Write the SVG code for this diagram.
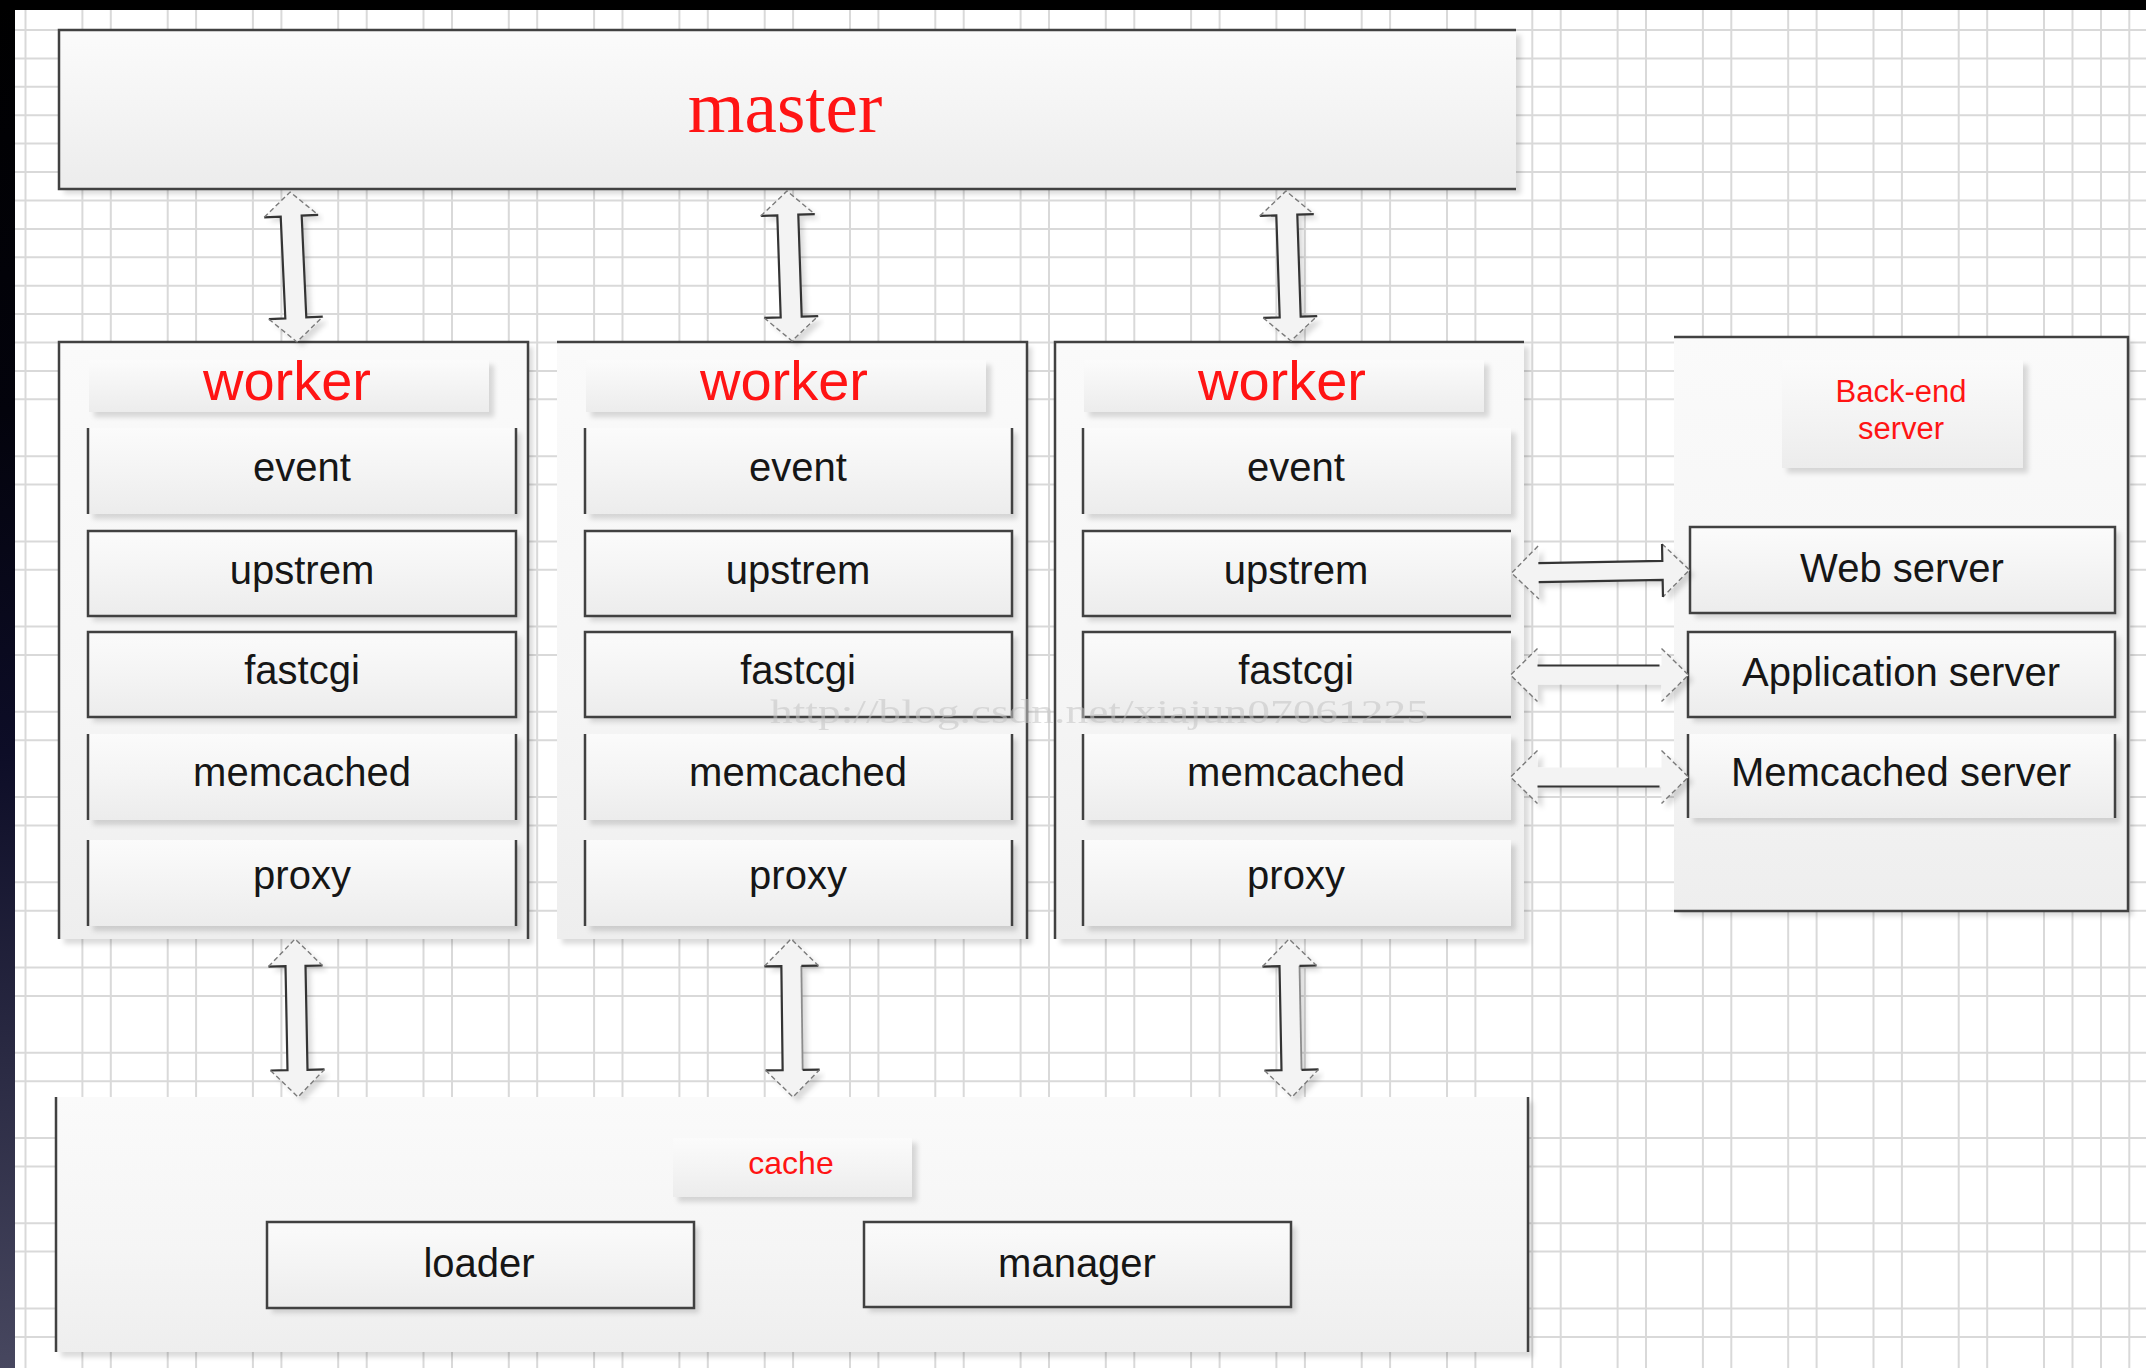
<svg xmlns="http://www.w3.org/2000/svg" xmlns:xlink="http://www.w3.org/1999/xlink" width="2146" height="1368" viewBox="0 0 2146 1368">
  <style>
    .bd { fill: none; stroke: #414141; stroke-width: 2.5; }
    .grid { fill: none; stroke: #d9d9d9; stroke-width: 2; }
    .lbl { font-family: "Liberation Sans", Arial, sans-serif; font-size: 40px; fill: #161616; text-anchor: middle; }
    .red { fill: #ff1414; }
    .ttl { font-size: 56px; }
    .sm { font-size: 31px; }
    .cap { font-size: 32px; }
    .serif { font-family: "Liberation Serif", "Times New Roman", serif; font-size: 73px; text-anchor: middle; }
    .af { fill: #f3f3f3; }
    .as { fill: none; stroke: #343434; stroke-width: 2.2; }
    .al { fill: none; stroke: #8c8c8c; stroke-width: 1.8; }
    .ad { fill: none; stroke: #7a7a7a; stroke-width: 1.4; stroke-dasharray: 5 3; }
    .wm { font-family: "Liberation Serif", "Times New Roman", serif; font-size: 33px; fill: #c4c4c4; opacity: 0.55; }
  </style>
  <defs>
    <linearGradient id="g" x1="0" y1="0" x2="0" y2="1">
      <stop offset="0" stop-color="#fbfbfb"/>
      <stop offset="0.5" stop-color="#f4f4f4"/>
      <stop offset="1" stop-color="#ececec"/>
    </linearGradient>
    <linearGradient id="g2" x1="0" y1="0" x2="0" y2="1">
      <stop offset="0" stop-color="#fafafa"/>
      <stop offset="0.6" stop-color="#f5f5f5"/>
      <stop offset="1" stop-color="#eeeeee"/>
    </linearGradient>
    <linearGradient id="side" x1="0" y1="0" x2="0" y2="1">
      <stop offset="0" stop-color="#000000"/>
      <stop offset="0.3" stop-color="#03030c"/>
      <stop offset="0.55" stop-color="#0d0d27"/>
      <stop offset="1" stop-color="#47475f"/>
    </linearGradient>
    <filter id="sh" x="-5%" y="-5%" width="115%" height="125%">
      <feDropShadow dx="5" dy="5" stdDeviation="2.5" flood-color="#000" flood-opacity="0.14"/>
    </filter>
    <!-- vertical double arrow, master <-> worker -->
    <polygon id="vaF" class="af" points="0,-75 27,-51 10.5,-51 10.5,51 27,51 0,75 -27,51 -10.5,51 -10.5,-51 -27,-51"/>
    <path id="vaS" class="as" d="M-27,-51 H-10.5 V51 H-27 M27,-51 H10.5 V51 H27"/>
    <path id="vaD" class="ad" d="M-27,-51 L0,-75 L27,-51 M-27,51 L0,75 L27,51"/>
    <!-- vertical double arrow, worker <-> cache -->
    <polygon id="vbF" class="af" points="0,-79 27,-52 10,-52 10,52 27,52 0,79 -27,52 -10,52 -10,-52 -27,-52"/>
    <path id="vbL" class="as" d="M-27,-52 H-10 V52 H-27"/>
    <path id="vbR" class="as" d="M27,-52 H10 V52 H27"/>
    <path id="vbRl" class="al" d="M10,-52 V52"/>
    <path id="vbLedge" class="as" d="M27,-52 H10 M27,52 H10"/>
    <path id="vbD" class="ad" d="M-27,-52 L0,-79 L27,-52 M-27,52 L0,79 L27,52"/>
    <!-- horizontal double arrow, worker <-> back-end -->
    <polygon id="haF" class="af" points="-89,0 -62,-26.5 -62,-9.5 62,-9.5 62,-26.5 89,0 62,26.5 62,9.5 -62,9.5 -62,26.5"/>
    <path id="haD" class="ad" d="M-62,-26.5 L-89,0 L-62,26.5 M62,-26.5 L89,0 L62,26.5"/>
  </defs>

  <!-- page background and grid -->
  <rect x="0" y="0" width="2146" height="1368" fill="#ffffff"/>
  <path class="grid" d="M25.5,0 V1368 M82.4,0 V1368 M110.8,0 V1368 M167.7,0 V1368 M196.1,0 V1368 M252.9,0 V1368 M281.4,0 V1368 M338.2,0 V1368 M366.7,0 V1368 M423.5,0 V1368 M452,0 V1368 M508.8,0 V1368 M537.2,0 V1368 M594.1,0 V1368 M622.5,0 V1368 M679.4,0 V1368 M707.8,0 V1368 M764.7,0 V1368 M793.1,0 V1368 M850,0 V1368 M878.4,0 V1368 M935.3,0 V1368 M963.7,0 V1368 M1020.6,0 V1368 M1049,0 V1368 M1105.8,0 V1368 M1134.3,0 V1368 M1191.1,0 V1368 M1219.6,0 V1368 M1276.4,0 V1368 M1304.9,0 V1368 M1361.7,0 V1368 M1390.1,0 V1368 M1447,0 V1368 M1475.4,0 V1368 M1532.3,0 V1368 M1560.7,0 V1368 M1617.6,0 V1368 M1646,0 V1368 M1702.9,0 V1368 M1731.3,0 V1368 M1788.2,0 V1368 M1816.6,0 V1368 M1873.5,0 V1368 M1901.9,0 V1368 M1958.7,0 V1368 M1987.2,0 V1368 M2044,0 V1368 M2072.5,0 V1368 M2101,0 V1368 M2129.3,0 V1368"/>
  <path class="grid" d="M0,30 H2146 M0,58.4 H2146 M0,86.8 H2146 M0,115.2 H2146 M0,143.6 H2146 M0,172 H2146 M0,200.5 H2146 M0,228.9 H2146 M0,257.3 H2146 M0,285.7 H2146 M0,314.1 H2146 M0,342.5 H2146 M0,370.9 H2146 M0,399.3 H2146 M0,456.2 H2146 M0,484.6 H2146 M0,541.4 H2146 M0,569.8 H2146 M0,626.6 H2146 M0,655 H2146 M0,711.8 H2146 M0,740.2 H2146 M0,797.1 H2146 M0,825.5 H2146 M0,882.3 H2146 M0,910.7 H2146 M0,967.5 H2146 M0,995.9 H2146 M0,1052.8 H2146 M0,1081.2 H2146 M0,1138 H2146 M0,1166.4 H2146 M0,1223.2 H2146 M0,1251.6 H2146 M0,1308.5 H2146 M0,1336.9 H2146"/>
  <rect x="0" y="0" width="15" height="1368" fill="url(#side)"/>
  <rect x="0" y="0" width="2146" height="10" fill="#000000"/>

  <!-- master process -->
  <g id="master">
    <rect x="59" y="30" width="1457" height="159" fill="url(#g)" filter="url(#sh)"/>
    <path class="bd" d="M1516,30 H59 V189 H1516"/>
    <text class="serif red" x="785" y="132">master</text>
  </g>

  <!-- worker processes -->
  <g id="worker-1">
    <rect x="59" y="342" width="469" height="597" fill="url(#g2)" filter="url(#sh)"/>
    <path class="bd" d="M59,939 V342 H528 V939"/>
    <rect x="89" y="360" width="400" height="52" fill="url(#g)" filter="url(#sh)"/>
    <text class="lbl red ttl" x="287" y="400">worker</text>
    <g id="w1-event">
      <rect x="88" y="428" width="428" height="86" fill="url(#g)" filter="url(#sh)"/>
      <path class="bd" d="M88,428 V514 M516,428 V514"/>
      <text class="lbl" x="302" y="481">event</text>
    </g>
    <g id="w1-upstrem">
      <rect x="88" y="531" width="428" height="85" fill="url(#g)" filter="url(#sh)"/>
      <rect class="bd" x="88" y="531" width="428" height="85"/>
      <text class="lbl" x="302" y="584">upstrem</text>
    </g>
    <g id="w1-fastcgi">
      <rect x="88" y="632" width="428" height="85" fill="url(#g)" filter="url(#sh)"/>
      <rect class="bd" x="88" y="632" width="428" height="85"/>
      <text class="lbl" x="302" y="684">fastcgi</text>
    </g>
    <g id="w1-memcached">
      <rect x="88" y="734" width="428" height="86" fill="url(#g)" filter="url(#sh)"/>
      <path class="bd" d="M88,734 V820 M516,734 V820"/>
      <text class="lbl" x="302" y="786">memcached</text>
    </g>
    <g id="w1-proxy">
      <rect x="88" y="840" width="428" height="86" fill="url(#g)" filter="url(#sh)"/>
      <path class="bd" d="M88,840 V926 M516,840 V926"/>
      <text class="lbl" x="302" y="889">proxy</text>
    </g>
  </g>

  <g id="worker-2">
    <rect x="557" y="342" width="470" height="597" fill="url(#g2)" filter="url(#sh)"/>
    <path class="bd" d="M557,342 H1027 V939"/>
    <rect x="586" y="360" width="400" height="52" fill="url(#g)" filter="url(#sh)"/>
    <text class="lbl red ttl" x="784" y="400">worker</text>
    <g id="w2-event">
      <rect x="585" y="428" width="427" height="86" fill="url(#g)" filter="url(#sh)"/>
      <path class="bd" d="M585,428 V514 M1012,428 V514"/>
      <text class="lbl" x="798" y="481">event</text>
    </g>
    <g id="w2-upstrem">
      <rect x="585" y="531" width="427" height="85" fill="url(#g)" filter="url(#sh)"/>
      <rect class="bd" x="585" y="531" width="427" height="85"/>
      <text class="lbl" x="798" y="584">upstrem</text>
    </g>
    <g id="w2-fastcgi">
      <rect x="585" y="632" width="427" height="85" fill="url(#g)" filter="url(#sh)"/>
      <rect class="bd" x="585" y="632" width="427" height="85"/>
      <text class="lbl" x="798" y="684">fastcgi</text>
    </g>
    <g id="w2-memcached">
      <rect x="585" y="734" width="427" height="86" fill="url(#g)" filter="url(#sh)"/>
      <path class="bd" d="M585,734 V820 M1012,734 V820"/>
      <text class="lbl" x="798" y="786">memcached</text>
    </g>
    <g id="w2-proxy">
      <rect x="585" y="840" width="427" height="86" fill="url(#g)" filter="url(#sh)"/>
      <path class="bd" d="M585,840 V926 M1012,840 V926"/>
      <text class="lbl" x="798" y="889">proxy</text>
    </g>
  </g>

  <g id="worker-3">
    <rect x="1055" y="342" width="469" height="597" fill="url(#g2)" filter="url(#sh)"/>
    <path class="bd" d="M1055,939 V342 H1524"/>
    <rect x="1084" y="360" width="400" height="52" fill="url(#g)" filter="url(#sh)"/>
    <text class="lbl red ttl" x="1282" y="400">worker</text>
    <g id="w3-event">
      <rect x="1083" y="428" width="428" height="86" fill="url(#g)" filter="url(#sh)"/>
      <path class="bd" d="M1083,428 V514"/>
      <text class="lbl" x="1296" y="481">event</text>
    </g>
    <g id="w3-upstrem">
      <rect x="1083" y="531" width="428" height="85" fill="url(#g)" filter="url(#sh)"/>
      <path class="bd" d="M1511,531 H1083 V616 H1511"/>
      <text class="lbl" x="1296" y="584">upstrem</text>
    </g>
    <g id="w3-fastcgi">
      <rect x="1083" y="632" width="428" height="85" fill="url(#g)" filter="url(#sh)"/>
      <path class="bd" d="M1511,632 H1083 V717 H1511"/>
      <text class="lbl" x="1296" y="684">fastcgi</text>
    </g>
    <g id="w3-memcached">
      <rect x="1083" y="734" width="428" height="86" fill="url(#g)" filter="url(#sh)"/>
      <path class="bd" d="M1083,734 V820"/>
      <text class="lbl" x="1296" y="786">memcached</text>
    </g>
    <g id="w3-proxy">
      <rect x="1083" y="840" width="428" height="86" fill="url(#g)" filter="url(#sh)"/>
      <path class="bd" d="M1083,840 V926"/>
      <text class="lbl" x="1296" y="889">proxy</text>
    </g>
  </g>

  <!-- back-end servers -->
  <g id="backend">
    <rect x="1674" y="337" width="454" height="574" fill="url(#g2)" filter="url(#sh)"/>
    <path class="bd" d="M1674,337 H2128 V911 H1674"/>
    <rect x="1782" y="360" width="241" height="108" fill="url(#g)" filter="url(#sh)"/>
    <text class="lbl red sm" x="1901" y="402">Back-end</text>
    <text class="lbl red sm" x="1901" y="439">server</text>
    <g id="web-server">
      <rect x="1690" y="527" width="425" height="86" fill="url(#g)" filter="url(#sh)"/>
      <rect class="bd" x="1690" y="527" width="425" height="86"/>
      <text class="lbl" x="1902" y="582">Web server</text>
    </g>
    <g id="application-server">
      <rect x="1688" y="632" width="427" height="85" fill="url(#g)" filter="url(#sh)"/>
      <rect class="bd" x="1688" y="632" width="427" height="85"/>
      <text class="lbl" x="1901" y="686">Application server</text>
    </g>
    <g id="memcached-server">
      <rect x="1688" y="734" width="427" height="84" fill="url(#g)" filter="url(#sh)"/>
      <path class="bd" d="M1688,734 V818 M2115,734 V818"/>
      <text class="lbl" x="1901" y="786">Memcached server</text>
    </g>
  </g>

  <!-- cache processes -->
  <g id="cache">
    <rect x="56" y="1097" width="1472" height="255" fill="url(#g2)" filter="url(#sh)"/>
    <path class="bd" d="M56,1097 V1352 M1528,1097 V1352"/>
    <rect x="673" y="1138" width="239" height="59" fill="url(#g)" filter="url(#sh)"/>
    <text class="lbl red cap" x="791" y="1174">cache</text>
    <g id="loader">
      <rect x="267" y="1222" width="427" height="86" fill="url(#g)" filter="url(#sh)"/>
      <rect class="bd" x="267" y="1222" width="427" height="86"/>
      <text class="lbl" x="479" y="1277">loader</text>
    </g>
    <g id="manager">
      <rect x="864" y="1222" width="427" height="85" fill="url(#g)" filter="url(#sh)"/>
      <rect class="bd" x="864" y="1222" width="427" height="85"/>
      <text class="lbl" x="1077" y="1277">manager</text>
    </g>
  </g>

  <!-- connectors: hollow double-headed arrows -->
  <g id="connectors">
    <g id="master-worker-1" transform="translate(293.5,267) rotate(-2.6)">
      <use xlink:href="#vaF" filter="url(#sh)"/><use xlink:href="#vaS"/><use xlink:href="#vaD"/>
    </g>
    <g id="master-worker-2" transform="translate(789.5,266) rotate(-1.9)">
      <use xlink:href="#vaF" filter="url(#sh)"/><use xlink:href="#vaS"/><use xlink:href="#vaD"/>
    </g>
    <g id="master-worker-3" transform="translate(1288.5,266) rotate(-1.9)">
      <use xlink:href="#vaF" filter="url(#sh)"/><use xlink:href="#vaS"/><use xlink:href="#vaD"/>
    </g>
    <g id="worker-1-cache" transform="translate(296.5,1018) rotate(-1.1)">
      <use xlink:href="#vbF" filter="url(#sh)"/><use xlink:href="#vbL"/><use xlink:href="#vbR"/><use xlink:href="#vbD"/>
    </g>
    <g id="worker-2-cache" transform="translate(792,1018) rotate(-0.7)">
      <use xlink:href="#vbF" filter="url(#sh)"/><use xlink:href="#vbL"/><use xlink:href="#vbRl"/><use xlink:href="#vbLedge"/><use xlink:href="#vbD"/>
    </g>
    <g id="worker-3-cache" transform="translate(1290.5,1018) rotate(-1.1)">
      <use xlink:href="#vbF" filter="url(#sh)"/><use xlink:href="#vbL"/><use xlink:href="#vbRl"/><use xlink:href="#vbLedge"/><use xlink:href="#vbD"/>
    </g>
    <g id="upstrem-web" transform="translate(1600.5,571.5) rotate(-1)">
      <use xlink:href="#haF" filter="url(#sh)"/><use xlink:href="#haD"/>
      <path class="as" d="M-62,-9.5 H62 V-26.5 M-62,9.5 H62 V26.5"/>
    </g>
    <g id="fastcgi-application" transform="translate(1599.5,675)">
      <use xlink:href="#haF" filter="url(#sh)"/><use xlink:href="#haD"/>
      <path class="as" d="M-62,-9.5 H60"/>
    </g>
    <g id="memcached-memcached" transform="translate(1599.5,777)">
      <use xlink:href="#haF" filter="url(#sh)"/><use xlink:href="#haD"/>
      <path class="as" d="M-62,9.5 H60"/>
    </g>
  </g>

  <text class="wm" x="770" y="723" textLength="659" lengthAdjust="spacingAndGlyphs">http://blog.csdn.net/xiajun07061225</text>
</svg>
